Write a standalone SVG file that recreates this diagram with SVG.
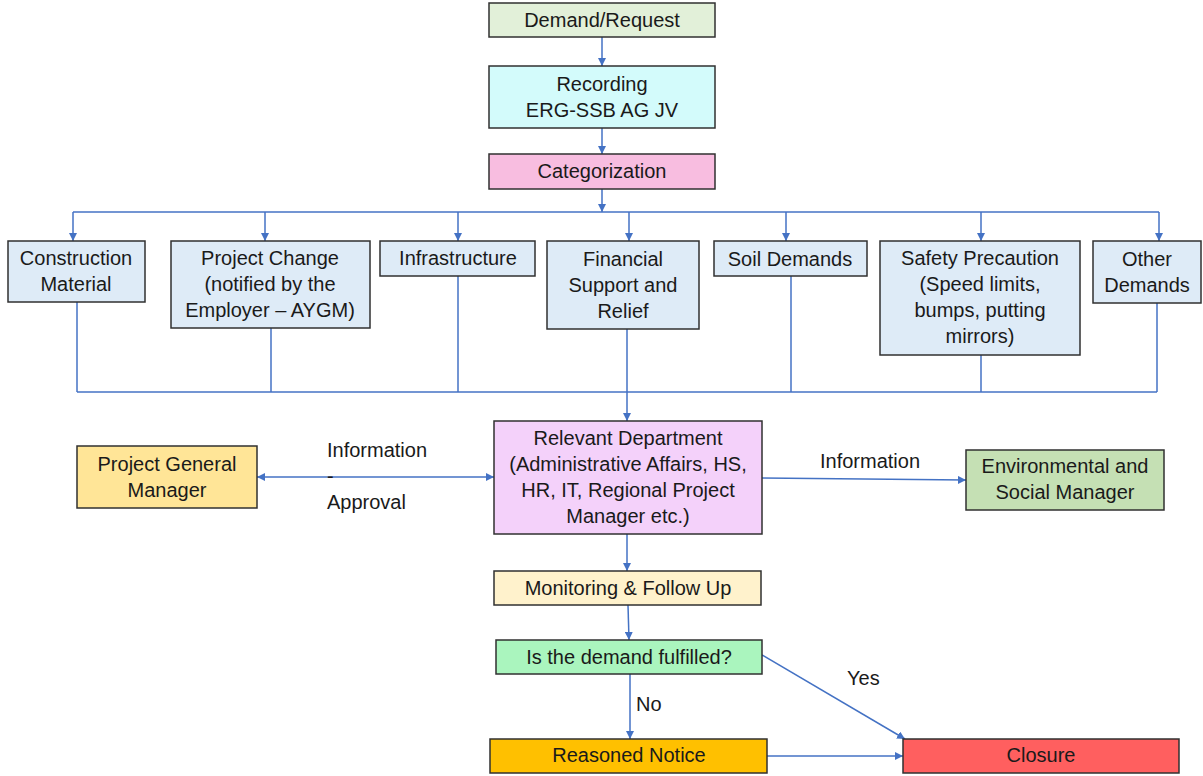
<svg xmlns="http://www.w3.org/2000/svg" width="1203" height="776" viewBox="0 0 1203 776">
  <style>
    .box { stroke: #303030; stroke-width: 1.5; }
    .cat { fill: #DEEBF7; }
    .lbl { font-family: "Liberation Sans", Arial, sans-serif; font-size: 20px; fill: #1a1a1a; text-anchor: middle; dominant-baseline: central; }
    .lft { text-anchor: start; }
    .wire { stroke: #4472C4; stroke-width: 1.5; fill: none; }
    .arr { marker-end: url(#head); }
  </style>
  <defs>
    <marker id="head" viewBox="0 0 10 10" refX="10" refY="5" markerWidth="8" markerHeight="8" markerUnits="userSpaceOnUse" orient="auto-start-reverse">
      <path d="M0,0 L10,5 L0,10 Z" fill="#4472C4"/>
    </marker>
  </defs>
  <rect width="1203" height="776" fill="#ffffff"/>

  <!-- connectors -->
  <g id="connectors">
    <line class="wire arr" x1="602" y1="37" x2="602" y2="66"/>
    <line class="wire arr" x1="602" y1="128" x2="602" y2="154"/>
    <line class="wire arr" x1="602" y1="189" x2="602" y2="212"/>
    <!-- distribution bus -->
    <line class="wire" x1="73" y1="212" x2="1159" y2="212"/>
    <line class="wire arr" x1="73" y1="212" x2="73" y2="241"/>
    <line class="wire arr" x1="265" y1="212" x2="265" y2="241"/>
    <line class="wire arr" x1="458" y1="212" x2="458" y2="241"/>
    <line class="wire arr" x1="629" y1="212" x2="629" y2="241"/>
    <line class="wire arr" x1="786" y1="212" x2="786" y2="241"/>
    <line class="wire arr" x1="981" y1="212" x2="981" y2="241"/>
    <line class="wire arr" x1="1159" y1="212" x2="1159" y2="241"/>
    <!-- collector bus -->
    <line class="wire" x1="77" y1="392" x2="1157" y2="392"/>
    <line class="wire" x1="77" y1="302" x2="77" y2="392"/>
    <line class="wire" x1="271" y1="328" x2="271" y2="392"/>
    <line class="wire" x1="458" y1="276" x2="458" y2="392"/>
    <line class="wire" x1="791" y1="276" x2="791" y2="392"/>
    <line class="wire" x1="981" y1="355" x2="981" y2="392"/>
    <line class="wire" x1="1157" y1="303" x2="1157" y2="392"/>
    <line class="wire arr" x1="627" y1="329" x2="627" y2="421"/>
    <!-- side flows -->
    <line class="wire arr" x1="494" y1="477" x2="257" y2="477" style="marker-start:url(#head)"/>
    <line class="wire arr" x1="762" y1="478" x2="966" y2="480"/>
    <!-- follow-up chain -->
    <line class="wire arr" x1="627" y1="534" x2="627" y2="571"/>
    <line class="wire arr" x1="628" y1="605" x2="629" y2="640"/>
    <line class="wire arr" x1="630" y1="674" x2="630" y2="739"/>
    <line class="wire arr" x1="762" y1="655" x2="905" y2="739"/>
    <line class="wire arr" x1="767" y1="756" x2="903" y2="756"/>
  </g>

  <g id="demand">
    <rect class="box" x="489" y="3" width="226" height="34" fill="#E2F0D9"/>
    <text class="lbl" x="602" y="20">Demand/Request</text>
  </g>
  <g id="recording">
    <rect class="box" x="489" y="66" width="226" height="62" fill="#D3FBFB"/>
    <text class="lbl" x="602" y="84">Recording</text>
    <text class="lbl" x="602" y="110">ERG-SSB AG JV</text>
  </g>
  <g id="categorization">
    <rect class="box" x="489" y="154" width="226" height="35" fill="#F8BDE0"/>
    <text class="lbl" x="602" y="171">Categorization</text>
  </g>

  <g id="construction">
    <rect class="box cat" x="8" y="241" width="137" height="61"/>
    <text class="lbl" x="76" y="258">Construction</text>
    <text class="lbl" x="76" y="284">Material</text>
  </g>
  <g id="project-change">
    <rect class="box cat" x="171" y="241" width="199" height="87"/>
    <text class="lbl" x="270" y="258">Project Change</text>
    <text class="lbl" x="270" y="284">(notified by the</text>
    <text class="lbl" x="270" y="310">Employer – AYGM)</text>
  </g>
  <g id="infrastructure">
    <rect class="box cat" x="380" y="241" width="155" height="35"/>
    <text class="lbl" x="458" y="258">Infrastructure</text>
  </g>
  <g id="financial">
    <rect class="box cat" x="547" y="241" width="152" height="88"/>
    <text class="lbl" x="623" y="259">Financial</text>
    <text class="lbl" x="623" y="285">Support and</text>
    <text class="lbl" x="623" y="311">Relief</text>
  </g>
  <g id="soil">
    <rect class="box cat" x="714" y="241" width="153" height="35"/>
    <text class="lbl" x="790" y="259">Soil Demands</text>
  </g>
  <g id="safety">
    <rect class="box cat" x="880" y="241" width="200" height="114"/>
    <text class="lbl" x="980" y="258">Safety Precaution</text>
    <text class="lbl" x="980" y="284">(Speed limits,</text>
    <text class="lbl" x="980" y="310">bumps, putting</text>
    <text class="lbl" x="980" y="336">mirrors)</text>
  </g>
  <g id="other">
    <rect class="box cat" x="1093" y="241" width="108" height="62"/>
    <text class="lbl" x="1147" y="259">Other</text>
    <text class="lbl" x="1147" y="285">Demands</text>
  </g>

  <g id="general-manager">
    <rect class="box" x="77" y="446" width="180" height="62" fill="#FFE597"/>
    <text class="lbl" x="167" y="464">Project General</text>
    <text class="lbl" x="167" y="490">Manager</text>
  </g>
  <g id="approval-labels">
    <text class="lbl lft" x="327" y="450">Information</text>
    <text class="lbl lft" x="327" y="476">-</text>
    <text class="lbl lft" x="327" y="502">Approval</text>
  </g>
  <g id="relevant-department">
    <rect class="box" x="494" y="421" width="268" height="113" fill="#F4D1FA"/>
    <text class="lbl" x="628" y="438">Relevant Department</text>
    <text class="lbl" x="628" y="464">(Administrative Affairs, HS,</text>
    <text class="lbl" x="628" y="490">HR, IT, Regional Project</text>
    <text class="lbl" x="628" y="516">Manager etc.)</text>
  </g>
  <g id="info-label">
    <text class="lbl lft" x="820" y="461">Information</text>
  </g>
  <g id="env-social">
    <rect class="box" x="966" y="450" width="198" height="60" fill="#C5E0B4"/>
    <text class="lbl" x="1065" y="466">Environmental and</text>
    <text class="lbl" x="1065" y="492">Social Manager</text>
  </g>

  <g id="monitoring">
    <rect class="box" x="494" y="571" width="267" height="34" fill="#FFF2CC"/>
    <text class="lbl" x="628" y="588">Monitoring &amp; Follow Up</text>
  </g>
  <g id="decision">
    <rect class="box" x="496" y="640" width="266" height="34" fill="#AAF5BE"/>
    <text class="lbl" x="629" y="657">Is the demand fulfilled?</text>
  </g>
  <g id="branch-labels">
    <text class="lbl lft" x="636" y="704">No</text>
    <text class="lbl lft" x="847" y="678">Yes</text>
  </g>
  <g id="reasoned-notice">
    <rect class="box" x="490" y="739" width="277" height="34" fill="#FFC000"/>
    <text class="lbl" x="629" y="755">Reasoned Notice</text>
  </g>
  <g id="closure">
    <rect class="box" x="903" y="739" width="276" height="34" fill="#FF5F5F"/>
    <text class="lbl" x="1041" y="755">Closure</text>
  </g>
</svg>
